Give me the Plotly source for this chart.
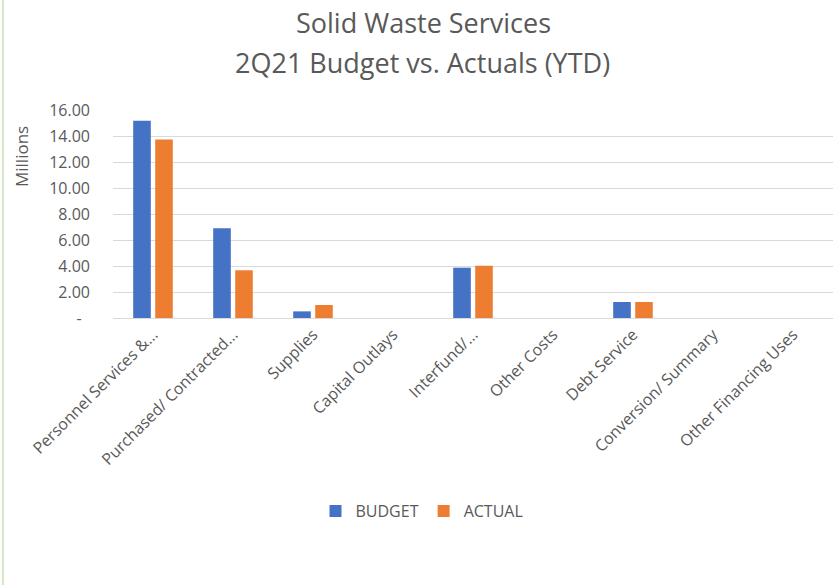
import plotly.graph_objects as go

categories = ["Personnel Services &...", "Purchased/ Contracted...", "Supplies", "Capital Outlays",
              "Interfund/...", "Other Costs", "Debt Service", "Conversion/ Summary", "Other Financing Uses"]
budget = [15.18, 6.90, 0.51, 0, 3.87, 0, 1.23, 0, 0]
actual = [13.74, 3.67, 1.00, 0, 4.02, 0, 1.23, 0, 0]
ytick_vals = [0, 2, 4, 6, 8, 10, 12, 14, 16]
ytick_text = ["-\u00a0\u00a0", "2.00", "4.00", "6.00", "8.00", "10.00", "12.00", "14.00", "16.00"]

FONT = "Open Sans, Liberation Sans, sans-serif"
GRAY = "#595959"

fig = go.Figure()
fig.add_trace(go.Bar(name="BUDGET", x=categories, y=budget,
                     marker=dict(color="#4472C4", line=dict(width=0))))
fig.add_trace(go.Bar(name="ACTUAL", x=categories, y=actual,
                     marker=dict(color="#ED7D31", line=dict(width=0))))

L, R, T, B = 113, 2, 110, 267
W, H = 835, 585
pw = W - L - R
ph = H - T - B

def px(x):
    return (x - L) / pw

def py(y):
    return (T + ph - y) / ph

fig.update_layout(
    width=W, height=H,
    margin=dict(l=L, r=R, t=T, b=B, autoexpand=False),
    paper_bgcolor="white", plot_bgcolor="white",
    barmode="group", bargap=0.45, bargroupgap=0.2,
    font=dict(family=FONT, color=GRAY, size=16),
    showlegend=True,
    legend=dict(orientation="h", x=px(422), xanchor="center",
                y=py(511), yanchor="middle",
                font=dict(size=16, color=GRAY), itemwidth=30, traceorder="normal"),
    xaxis=dict(tickangle=-45, showgrid=False, showline=True, linecolor="#D9D9D9",
               tickfont=dict(size=16, color=GRAY), ticks="", automargin=False),
    yaxis=dict(range=[0, 16], tickvals=ytick_vals, ticktext=ytick_text,
               showgrid=True, gridcolor="#D9D9D9", gridwidth=1, zeroline=False,
               tickfont=dict(size=16, color=GRAY), ticklabelstandoff=22, automargin=False),
)

# title as two annotation lines
fig.add_annotation(text="Solid Waste Services", xref="paper", yref="paper",
                   x=px(423), y=py(23), xanchor="center", yanchor="middle",
                   showarrow=False, font=dict(size=27, color=GRAY, family=FONT))
fig.add_annotation(text="2Q21 Budget vs. Actuals (YTD)", xref="paper", yref="paper",
                   x=px(422), y=py(63), xanchor="center", yanchor="middle",
                   showarrow=False, font=dict(size=27, color=GRAY, family=FONT))
# y-axis title
fig.add_annotation(text="Millions", xref="paper", yref="paper",
                   x=px(21), y=py(157), xanchor="center", yanchor="middle", textangle=-90,
                   showarrow=False, font=dict(size=17, color=GRAY, family=FONT))

# thin green border on the left edge
fig.add_shape(type="line", xref="paper", yref="paper",
              x0=px(3), x1=px(3), y0=py(0), y1=py(H),
              line=dict(color="#A9D18E", width=1))

fig.write_html("out.html", config={"displayModeBar": False},
               post_script="document.body.style.margin='0';document.body.style.padding='0';")
